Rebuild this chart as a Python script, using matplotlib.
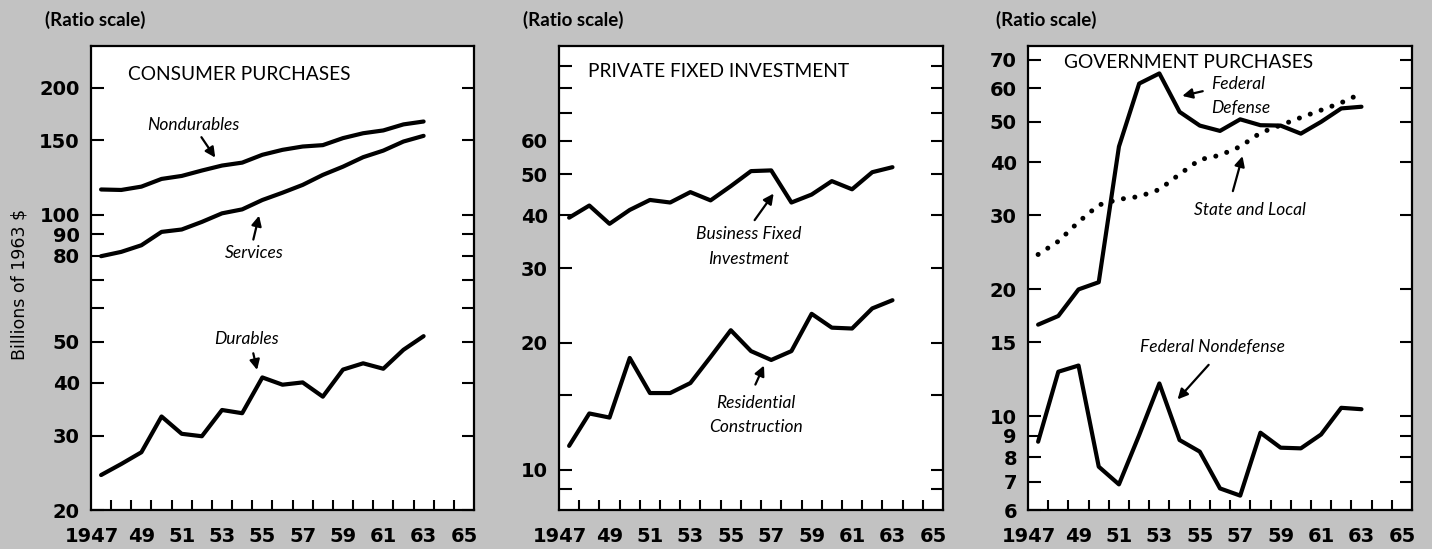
import matplotlib
matplotlib.use('Agg')
import matplotlib.pyplot as plt
import matplotlib.transforms as mtransforms
from matplotlib.ticker import FixedLocator, FixedFormatter, NullFormatter

years = list(range(1947, 1964))

# consumer purchases (billions of 1963 $)
nondurables = [114.8, 114.5, 116.6, 121.6, 123.6, 127.3, 130.8, 132.9, 138.7, 142.5,
               145.1, 146.2, 151.9, 156.0, 158.4, 163.7, 166.3]
services = [79.8, 81.7, 84.7, 91.1, 92.3, 96.2, 100.8, 103.0, 108.4, 112.8,
            117.7, 124.3, 130.0, 136.9, 141.9, 149.1, 153.8]
durables = [24.2, 25.7, 27.4, 33.3, 30.3, 29.9, 34.5, 33.9, 41.2, 39.6,
            40.1, 37.1, 43.0, 44.5, 43.2, 47.9, 51.6]

# private fixed investment
business_fixed = [39.5, 42.2, 38.2, 41.2, 43.5, 42.9, 45.4, 43.4, 46.9, 50.9,
                  51.1, 42.9, 44.8, 48.2, 46.1, 50.6, 52.0]
residential = [11.4, 13.6, 13.3, 18.4, 15.2, 15.2, 16.05, 18.5, 21.4, 19.1,
               18.2, 19.1, 23.4, 21.7, 21.6, 24.1, 25.2]

# government purchases
fed_defense = [16.5, 17.3, 20.0, 20.8, 43.6, 61.5, 65.0, 52.7, 48.9, 47.5,
               50.6, 49.0, 48.9, 46.8, 49.9, 53.7, 54.2]
state_local = [24.2, 26.0, 28.9, 31.7, 32.7, 33.2, 34.5, 37.5, 40.6, 41.6,
               43.6, 47.0, 49.0, 51.1, 53.2, 55.4, 58.3]
fed_nondefense = [8.71, 12.76, 13.2, 7.6, 6.9, 9.03, 11.97, 8.79, 8.25, 6.75,
                  6.49, 9.15, 8.43, 8.4, 9.06, 10.48, 10.4]

xlabels = ['1947', '49', '51', '53', '55', '57', '59', '61', '63', '65']
xlabel_pos = list(range(1947, 1966, 2))

bg = '#c2c2c2'
fnt = 'Lato'
tickfnt = 'DejaVu Sans'

fig = plt.figure(figsize=(14.32, 5.49), dpi=100, facecolor=bg)
W, H = 1432, 549


def make_ax(left, width, ylim, major, minor):
    ax = fig.add_axes([left / W, 39 / H, width / W, 464 / H])
    ax.set_facecolor('white')
    ax.set_yscale('log')
    ax.set_xlim(1946.5, 1965.5)
    ax.set_ylim(*ylim)
    ax.yaxis.set_major_locator(FixedLocator(major))
    ax.yaxis.set_minor_locator(FixedLocator(minor))
    ax.yaxis.set_major_formatter(FixedFormatter([str(v) for v in major]))
    ax.yaxis.set_minor_formatter(NullFormatter())
    ax.xaxis.set_major_locator(FixedLocator(xlabel_pos))
    ax.xaxis.set_major_formatter(FixedFormatter(xlabels))
    ax.xaxis.set_minor_locator(FixedLocator([y + 0.5 for y in range(1947, 1965)]))
    ax.tick_params(axis='x', which='major', length=0, pad=12, labelsize=14)
    ax.tick_params(axis='x', which='minor', direction='in', length=7, width=1.5, top=False)
    ax.tick_params(axis='y', which='both', direction='in', length=9, width=1.5,
                   left=True, right=True, pad=8, labelsize=14)
    for lab in ax.get_xticklabels() + ax.get_yticklabels():
        lab.set_fontfamily(tickfnt)
        lab.set_fontweight('bold')
    # "1947" sits a little left of its year
    first = ax.get_xticklabels()[0]
    first.set_transform(first.get_transform() +
                        mtransforms.ScaledTranslation(-9 / 100, 0, fig.dpi_scale_trans))
    for s in ax.spines.values():
        s.set_linewidth(1.6)
    return ax


lw = 3.0
ann = dict(style='italic', family=fnt, fontsize=12.5)
ap = dict(arrowstyle='-|>', color='black', lw=1.6, mutation_scale=15)

# ---- panel 1
ax1 = make_ax(91, 383, (20, 251), [20, 30, 40, 50, 80, 90, 100, 150, 200], [60, 70])
ax1.plot(years, nondurables, color='black', lw=lw, solid_capstyle='round')
ax1.plot(years, services, color='black', lw=lw, solid_capstyle='round')
ax1.plot(years, durables, color='black', lw=lw, solid_capstyle='round')
ax1.text(0.097, 0.9375, 'CONSUMER PURCHASES', transform=ax1.transAxes, fontsize=13.8,
         family=fnt, va='center', ha='left')

ax1.text(1951.6, 163.4, 'Nondurables', ha='center', va='center', **ann)
ax1.annotate('', xy=(1952.74, 134.9), xytext=(1951.9, 154.6), arrowprops=ap)
ax1.text(1954.6, 81.1, 'Services', ha='center', va='center', **ann)
ax1.annotate('', xy=(1954.87, 101), xytext=(1954.52, 86.1), arrowprops=ap)
ax1.text(1954.2, 50.9, 'Durables', ha='center', va='center', **ann)
ax1.annotate('', xy=(1954.77, 42.3), xytext=(1954.52, 47.7), arrowprops=ap)

# ---- panel 2
ax2 = make_ax(559, 384, (8.04, 100.6), [10, 20, 30, 40, 50, 60], [9, 15, 70, 80, 90])
ax2.plot(years, business_fixed, color='black', lw=lw, solid_capstyle='round')
ax2.plot(years, residential, color='black', lw=lw, solid_capstyle='round')
ax2.text(0.0755, 0.944, 'PRIVATE FIXED INVESTMENT', transform=ax2.transAxes, fontsize=13.8,
         family=fnt, va='center', ha='left')
ax2.text(1955.9, 33.8, 'Business Fixed\nInvestment', ha='center', va='center',
         linespacing=1.65, **ann)
ax2.annotate('', xy=(1957.2, 45.6), xytext=(1956.1, 38.5), arrowprops=ap)
ax2.text(1956.26, 13.5, 'Residential\nConstruction', ha='center', va='center',
         linespacing=1.65, **ann)
ax2.annotate('', xy=(1956.7, 17.9), xytext=(1956.16, 15.7), arrowprops=ap)

# ---- panel 3
ax3 = make_ax(1028, 384, (6, 75.5), [6, 7, 8, 9, 10, 15, 20, 30, 40, 50, 60, 70], [])
ax3.plot(years, fed_defense, color='black', lw=lw, solid_capstyle='round')
ax3.plot(years, state_local, color='black', lw=3.6, linestyle=(0, (0.01, 2.3)),
         dash_capstyle='round')
ax3.plot(years, fed_nondefense, color='black', lw=lw, solid_capstyle='round')
ax3.text(0.094, 0.9655, 'GOVERNMENT PURCHASES', transform=ax3.transAxes, fontsize=13.8,
         family=fnt, va='center', ha='left')
ax3.text(1955.58, 57.5, 'Federal\nDefense', ha='left', va='center', linespacing=1.65, **ann)
ax3.annotate('', xy=(1954.0, 57.3), xytext=(1955.28, 59.2), arrowprops=ap)
ax3.text(1957.49, 30.9, 'State and Local', ha='center', va='center', **ann)
ax3.annotate('', xy=(1957.15, 42.0), xytext=(1956.6, 33.7), arrowprops=ap)
ax3.text(1955.65, 14.6, 'Federal Nondefense', ha='center', va='center', **ann)
ax3.annotate('', xy=(1953.81, 10.85), xytext=(1955.53, 13.4), arrowprops=ap)

# ---- figure texts
for x0 in (45, 523, 996):
    fig.text(x0 / W, 1 - 20 / H, '(Ratio scale)', family=fnt, fontweight='bold',
             fontsize=13.5, ha='left', va='center')
fig.text(20 / W, 1 - 284 / H, 'Billions of 1963 $', family=tickfnt, fontsize=12.5,
         rotation=90, ha='center', va='center')

fig.savefig('out.png', dpi=100, facecolor=bg)
